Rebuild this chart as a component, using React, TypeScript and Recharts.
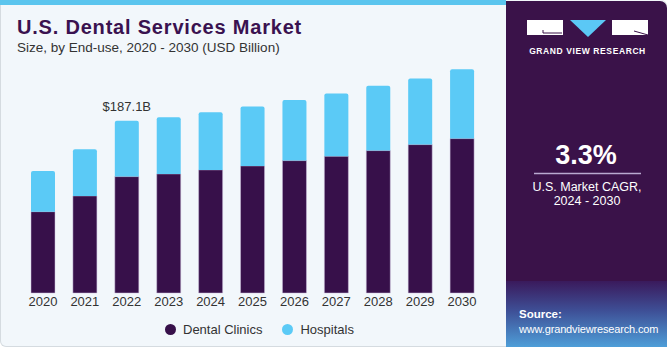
import React from 'react';
import { BarChart, Bar, XAxis, YAxis, Legend, LabelList } from 'recharts';

const years = ['2020', '2021', '2022', '2023', '2024', '2025', '2026', '2027', '2028', '2029', '2030'];
const dentalClinics = [88.4, 105.5, 126.5, 129.4, 133.8, 138.1, 143.9, 148.7, 154.8, 161.3, 167.8];
const hospitals = [44.3, 50.8, 60.6, 61.7, 62.8, 64.6, 66.0, 68.1, 70.4, 71.8, 75.5];
const seriesNames = ['Dental Clinics', 'Hospitals'];
const labelYearIndex = 2;

const data = years.map((y, i) => ({ year: y, clinics: dentalClinics[i], hospitals: hospitals[i] }));

const FONT = '"Liberation Sans", Arial, sans-serif';
const PURPLE = '#37104A';
const CYAN = '#5BCAF6';

const TotalLabel = (props: any) => {
  const { x, y, width, index } = props;
  if (index !== labelYearIndex) return null;
  const total = dentalClinics[index] + hospitals[index];
  return (
    <text x={x + width / 2} y={y - 10} textAnchor="middle" fontSize={13} fill="#333" fontFamily={FONT}>
      {'$' + total.toFixed(1) + 'B'}
    </text>
  );
};

const LegendContent = (props: any) => {
  const { payload } = props;
  return (
    <div style={{ display: 'flex', alignItems: 'center', fontFamily: FONT, fontSize: 13, color: '#333', height: 16 }}>
      {(payload || []).map((p: any, i: number) => (
        <div key={i} style={{ display: 'flex', alignItems: 'center', marginRight: 20 }}>
          <span style={{ width: 11, height: 11, borderRadius: '50%', background: p.color, display: 'inline-block', marginRight: 7 }} />
          <span>{p.value}</span>
        </div>
      ))}
    </div>
  );
};

export default function App() {
  return (
    <div style={{ position: 'absolute', left: 0, top: 0, width: 671, height: 350, background: '#ffffff', overflow: 'hidden' }}>
      {/* card */}
      <div style={{ position: 'absolute', left: 0, top: 0, width: 667, height: 347, background: '#F2F7FB', border: '1px solid #d5dbe0', borderTop: 'none', borderBottomLeftRadius: 6, borderTopRightRadius: 6, boxSizing: 'border-box' }} />
      <div style={{ position: 'absolute', left: 0, top: 0, width: 506, height: 5, background: '#5BC5EE' }} />
      {/* right panel */}
      <div style={{ position: 'absolute', left: 506, top: 1, width: 161, height: 346, background: '#3A1249', borderTopRightRadius: 7, overflow: 'hidden' }}>
        <div style={{ position: 'absolute', left: 0, top: 280, width: 161, height: 66, background: 'linear-gradient(180deg, #3A1A5C 0%, #3E4F96 45%, #4E9ED8 100%)' }} />
      </div>
      {/* title */}
      <div style={{ position: 'absolute', left: 17, top: 16, fontFamily: FONT, fontWeight: 700, fontSize: 20, letterSpacing: 0.8, color: '#3A1250', whiteSpace: 'nowrap' }}>
        U.S. Dental Services Market
      </div>
      <div style={{ position: 'absolute', left: 17, top: 40, fontFamily: FONT, fontSize: 13.5, color: '#333', whiteSpace: 'nowrap' }}>
        Size, by End-use, 2020 - 2030 (USD Billion)
      </div>
      {/* logo */}
      <svg style={{ position: 'absolute', left: 0, top: 0 }} width={671} height={350}>
        <rect x={527} y={20} width={36} height={15} fill="#ffffff" />
        <path d="M543 30 L543 33 L562 33" stroke="#3A1249" strokeWidth={1} fill="none" />
        <polygon points="570,20 606,20 588,37" fill="#5BC8F5" />
        <rect x={612} y={20} width={36} height={15} fill="#ffffff" />
        <path d="M634 31 L648 35" stroke="#3A1249" strokeWidth={1} fill="none" />
        <text x={587.5} y={54} textAnchor="middle" fill="#ffffff" fontFamily={FONT} fontWeight={700} fontSize={8.5} letterSpacing={0.6}>GRAND VIEW RESEARCH</text>
        <text x={586} y={164} textAnchor="middle" fill="#ffffff" fontFamily={FONT} fontWeight={700} fontSize={27}>3.3%</text>
        <line x1={534} y1={173.5} x2={641} y2={173.5} stroke="#b9a9d0" strokeWidth={1.5} />
        <text x={587} y={191} textAnchor="middle" fill="#ffffff" fontFamily={FONT} fontSize={12.5}>U.S. Market CAGR,</text>
        <text x={587} y={205} textAnchor="middle" fill="#ffffff" fontFamily={FONT} fontSize={12.5}>2024 - 2030</text>
        <text x={519} y={318} fill="#ffffff" fontFamily={FONT} fontWeight={700} fontSize={11.5}>Source:</text>
        <text x={519} y={333} fill="#ffffff" fontFamily={FONT} fontSize={11} letterSpacing={-0.15}>www.grandviewresearch.com</text>
      </svg>
      {/* chart */}
      <div style={{ position: 'absolute', left: 0, top: 0 }}>
        <BarChart width={505} height={350} data={data} margin={{ top: 63, right: 22, bottom: 11, left: 22 }}>
          <XAxis dataKey="year" axisLine={false} tickLine={false} tickSize={0} tickMargin={4} height={30} interval={0}
            tick={{ fill: '#333', fontSize: 13, fontFamily: FONT }} />
          <YAxis hide domain={[0, 250]} />
          <Legend verticalAlign="bottom" height={16} content={<LegendContent />} wrapperStyle={{ position: 'absolute', left: 165, top: 321, width: 'auto' }} />
          <Bar dataKey="clinics" name={seriesNames[0]} stackId="a" fill={PURPLE} barSize={24} isAnimationActive={false} stroke="#cdbfdc" strokeWidth={0.5} />
          <Bar dataKey="hospitals" name={seriesNames[1]} stackId="a" fill={CYAN} barSize={24} radius={[2, 2, 0, 0]} isAnimationActive={false}>
            <LabelList dataKey="hospitals" content={<TotalLabel />} />
          </Bar>
        </BarChart>
      </div>
    </div>
  );
}
